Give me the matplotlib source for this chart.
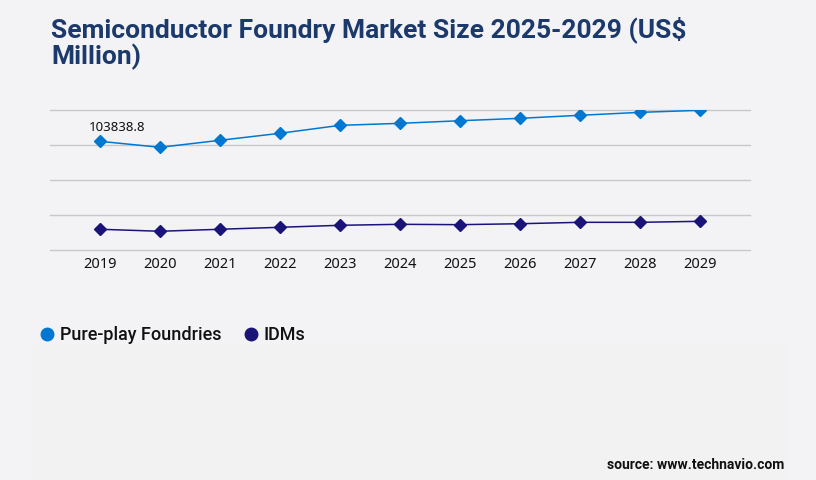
import matplotlib
matplotlib.use("Agg")
import matplotlib.pyplot as plt
from matplotlib.lines import Line2D
from matplotlib.patches import Rectangle

years = ["2019", "2020", "2021", "2022", "2023", "2024", "2025", "2026", "2027", "2028", "2029"]
pure_play = [103838.8, 98100, 104800, 111500, 119100, 121000, 123500, 125800, 128700, 131500, 133450]
idms = [19800, 17900, 19800, 21700, 23600, 24550, 24200, 25100, 26450, 26450, 27400]
series_names = ["Pure-play Foundries", "IDMs"]
title_text = "Semiconductor Foundry Market Size 2025-2029 (US$\nMillion)"
source_text = "source: www.technavio.com"

BG = "#f3f3f6"
C_PURE = "#0078d2"
C_IDM = "#1b1478"
TITLE_C = "#1b3a6b"

fig = plt.figure(figsize=(8.16, 4.8), dpi=100)
fig.patch.set_facecolor(BG)

# lighter panel behind legend/source area
fig.add_artist(Rectangle((31 / 816, 0), (789 - 31) / 816, 1 - 345 / 480,
                         transform=fig.transFigure, facecolor="#f2f2f3",
                         edgecolor="none", zorder=0))

ax = fig.add_axes([50 / 816, 1 - 250 / 480, 700 / 816, 140 / 480])
ax.set_facecolor(BG)
x = list(range(len(years)))
ax.plot(x, pure_play, color=C_PURE, lw=1.1, marker="D", ms=6.5, zorder=3)
ax.plot(x, idms, color=C_IDM, lw=1.1, marker="D", ms=6.5, zorder=3)

ymax = 133750
ax.set_ylim(0, ymax)
ax.set_yticks([ymax * i / 4 for i in range(5)])
ax.set_xlim(-0.833, len(years) - 1 + 0.833)
ax.set_xticks(x)
ax.set_xticklabels(years, fontsize=10.5, family="Noto Sans", color="#111111")
ax.tick_params(axis="x", length=0, pad=5)
ax.tick_params(axis="y", length=0, labelleft=False)
ax.grid(axis="y", color="#c8c8c8", lw=1.0)
for gl in ax.get_ygridlines():
    gl.set_clip_on(False)
ax.set_axisbelow(True)
for s in ax.spines.values():
    s.set_visible(False)

ax.annotate(f"{pure_play[0]:.1f}", (x[0], pure_play[0]), xytext=(-8, 5),
            textcoords="offset points", fontsize=9.5, family="Noto Sans",
            color="#111111", ha="left", va="bottom")

fig.text(51 / 816, 1 - 16 / 480, title_text, fontsize=19, fontweight="bold",
         family="Roboto", color=TITLE_C, va="top", ha="left", linespacing=1.05)

handles = [Line2D([], [], marker="o", ls="none", color=C_PURE, ms=9),
           Line2D([], [], marker="o", ls="none", color=C_IDM, ms=9)]
leg = fig.legend(handles, series_names, loc="center left",
                 bbox_to_anchor=(24 / 816, 1 - 335 / 480), ncol=2, frameon=False,
                 handlelength=0.8, handletextpad=0.3, columnspacing=1.2,
                 prop={"family": "Roboto", "size": 13, "weight": "medium"})
for t in leg.get_texts():
    t.set_color("#111111")

fig.text(784 / 816, 1 - 465 / 480, source_text, fontsize=10, fontweight="bold",
         family="Roboto", color="#111111", ha="right", va="center")

fig.savefig("out.png", dpi=100, facecolor=BG)
